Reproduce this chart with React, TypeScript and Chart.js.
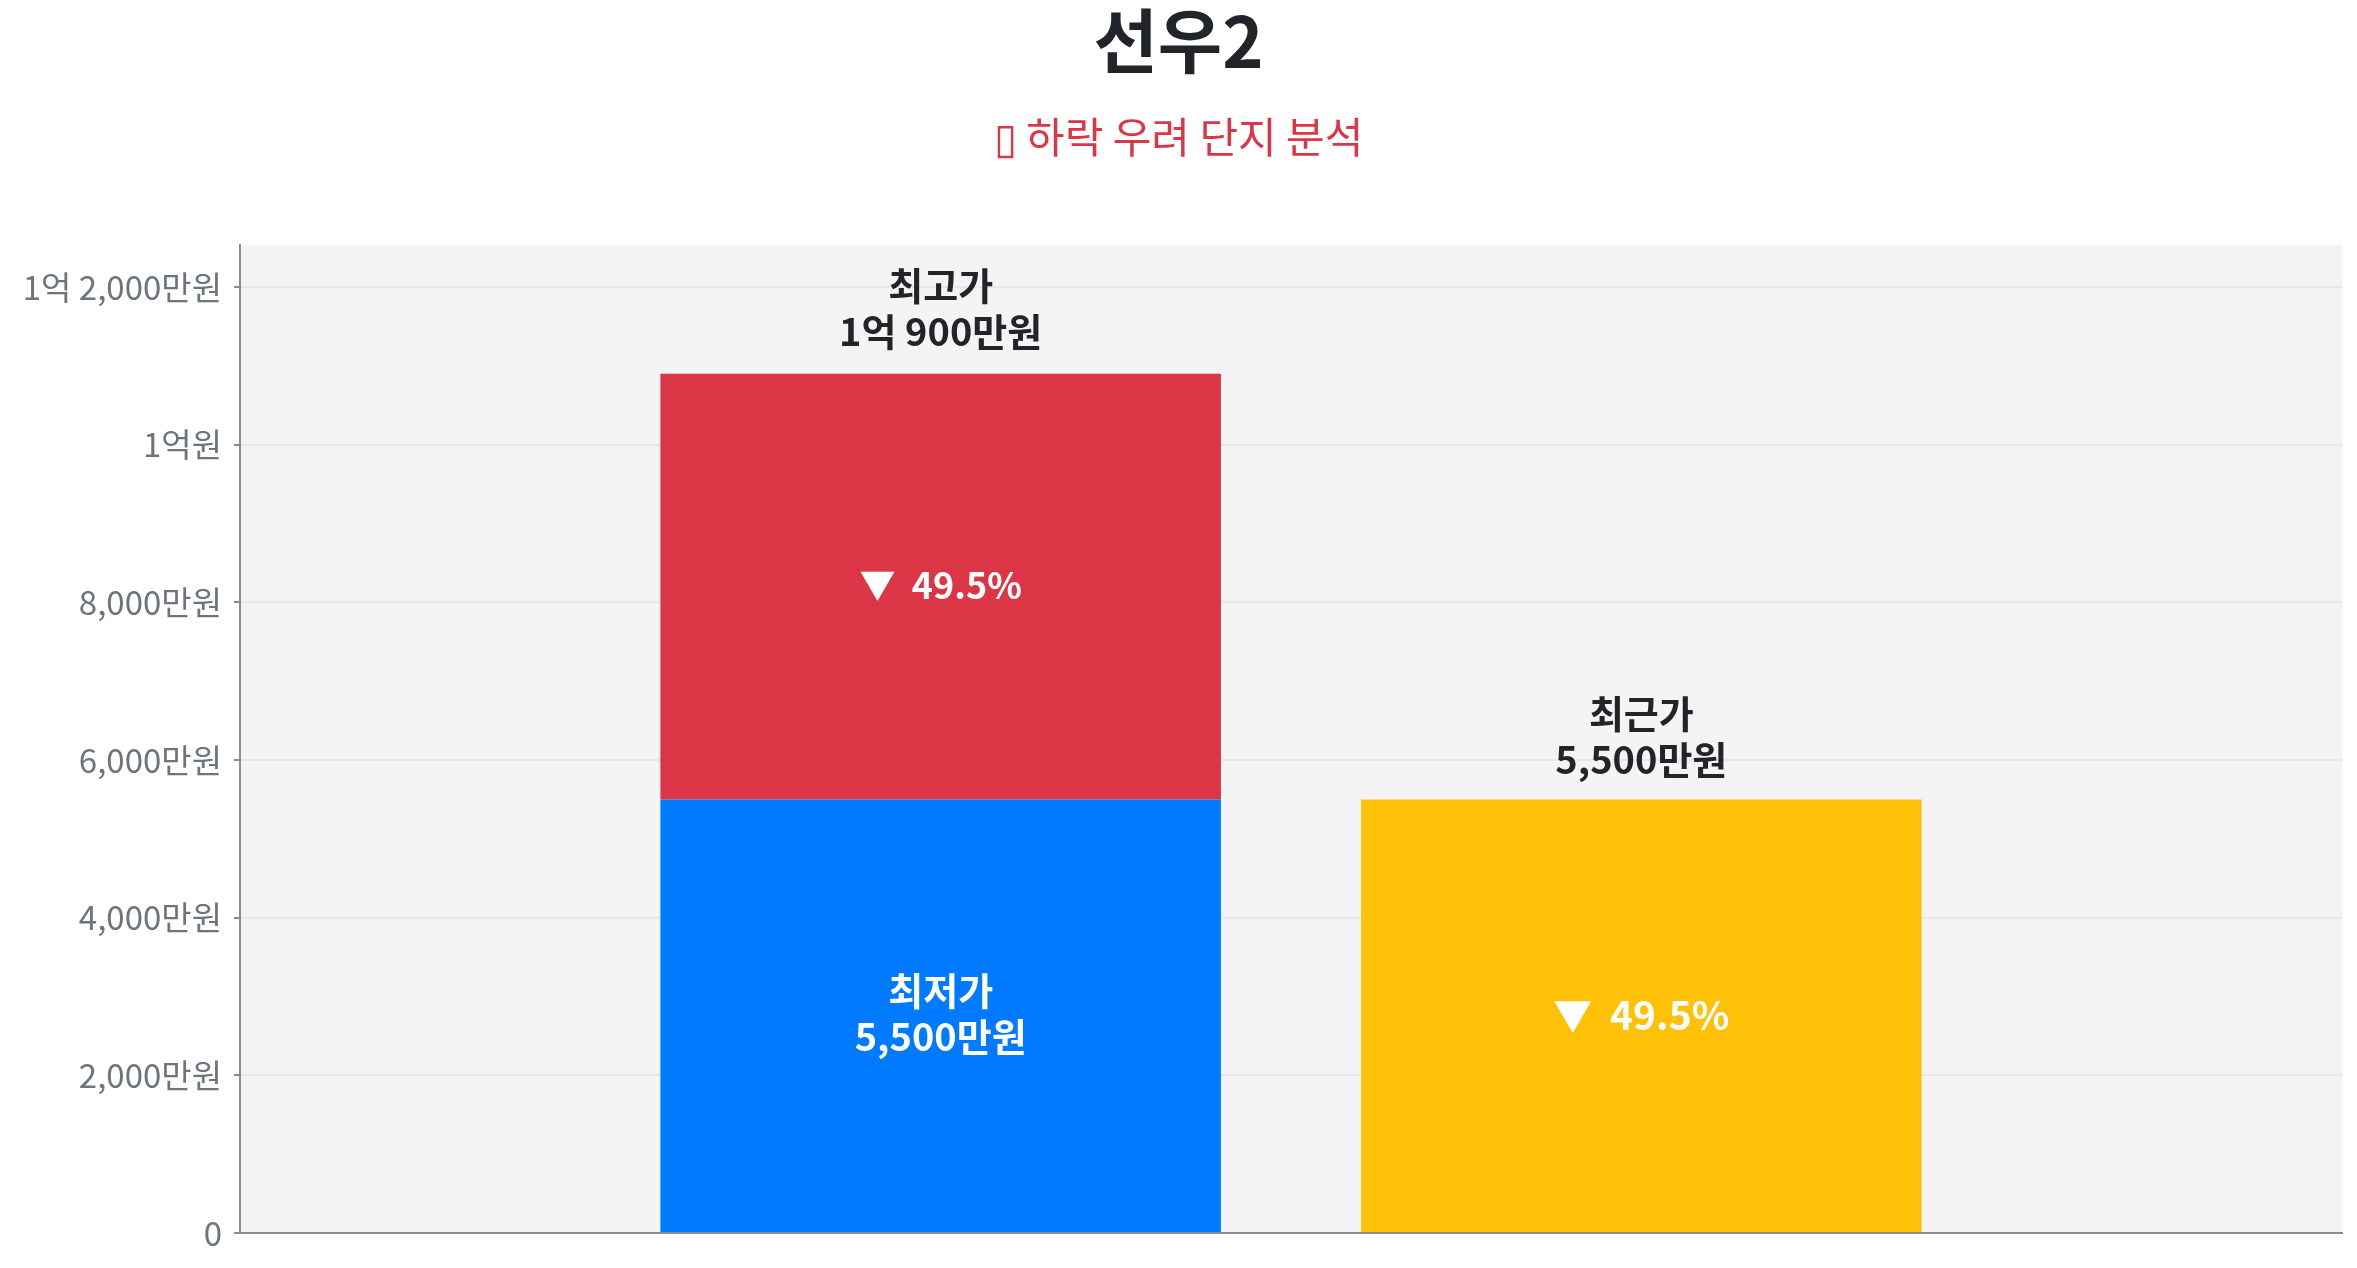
import React, { useEffect, useRef } from 'react';
import { Chart, registerables } from 'chart.js';

Chart.register(...registerables);

// ---- data (values in 만원) ----
const categories = ['', '최저가·최고가', '최근가', ''];
const priceNames = ['최저가', '최고가', '최근가'];
const priceValues = [5500, 10900, 5500]; // lowest, highest, recent
const yTickStep = 2000;
const yMaxValue = 12535;
const titleText = '선우2';
const subtitleText = '▯ 하락 우려 단지 분석';

const FONT = '"Noto Sans CJK KR", "Noto Sans", sans-serif';

function formatManwon(v: number): string {
  if (v === 0) return '0';
  const eok = Math.floor(v / 10000);
  const man = Math.round(v % 10000);
  if (eok > 0 && man > 0) return `${eok}억 ${man.toLocaleString('en-US')}만원`;
  if (eok > 0) return `${eok}억원`;
  return `${man.toLocaleString('en-US')}만원`;
}

const bgPlugin = {
  id: 'areaBg',
  beforeDraw(chart: any) {
    const { ctx, chartArea } = chart;
    if (!chartArea) return;
    ctx.save();
    ctx.fillStyle = '#f4f4f4';
    ctx.fillRect(chartArea.left, chartArea.top, chartArea.right - chartArea.left, chartArea.bottom - chartArea.top);
    ctx.restore();
  },
};

const labelPlugin = {
  id: 'barLabels',
  afterDatasetsDraw(chart: any) {
    const { ctx } = chart;
    const [low, high, recent] = priceValues;
    const dropHigh = (((high - low) / high) * 100).toFixed(1);
    const dropRecent = (((high - recent) / high) * 100).toFixed(1);
    const el = (ds: number, idx: number) => chart.getDatasetMeta(ds).data[idx].getProps(['x', 'y', 'base'], true);

    ctx.save();
    ctx.textAlign = 'center';
    ctx.textBaseline = 'middle';

    // lowest (blue)
    const b = el(0, 1);
    const bc = (b.y + b.base) / 2;
    ctx.fillStyle = '#ffffff';
    ctx.font = `bold 38px ${FONT}`;
    ctx.fillText(priceNames[0], b.x, bc - 25);
    ctx.fillText(formatManwon(low), b.x, bc + 21);

    // highest (red)
    const r = el(1, 1);
    const rc = (r.y + r.base) / 2;
    ctx.font = `bold 36px ${FONT}`;
    ctx.fillText(`▼  ${dropHigh}%`, r.x, rc - 1);
    ctx.fillStyle = '#212529';
    ctx.font = `bold 38px ${FONT}`;
    ctx.fillText(priceNames[1], r.x, r.y - 88);
    ctx.fillText(formatManwon(high), r.x, r.y - 42);

    // recent (yellow)
    const y = el(2, 2);
    const yc = (y.y + y.base) / 2;
    ctx.fillStyle = '#ffffff';
    ctx.font = `bold 39px ${FONT}`;
    ctx.fillText(`▼  ${dropRecent}%`, y.x, yc - 1);
    ctx.fillStyle = '#212529';
    ctx.font = `bold 38px ${FONT}`;
    ctx.fillText(priceNames[2], y.x, y.y - 86);
    ctx.fillText(formatManwon(recent), y.x, y.y - 40);

    ctx.restore();
  },
};

export default function App() {
  const canvasRef = useRef<HTMLCanvasElement | null>(null);

  useEffect(() => {
    document.body.style.margin = '0';
    const canvas = canvasRef.current;
    if (!canvas) return;
    const [low, high, recent] = priceValues;
    const chart = new Chart(canvas, {
      type: 'bar',
      data: {
        labels: categories,
        datasets: [
          {
            label: priceNames[0],
            data: [null, low, null, null],
            backgroundColor: '#007bff',
            categoryPercentage: 0.8,
            barPercentage: 1.0,
          },
          {
            label: priceNames[1],
            data: [null, high - low, null, null],
            backgroundColor: '#dc3545',
            categoryPercentage: 0.8,
            barPercentage: 1.0,
          },
          {
            label: priceNames[2],
            data: [null, null, recent, null],
            backgroundColor: '#ffc107',
            categoryPercentage: 0.8,
            barPercentage: 1.0,
          },
        ],
      },
      options: {
        responsive: false,
        animation: false,
        devicePixelRatio: 1,
        layout: { padding: { left: 15, right: 15, top: 0, bottom: 35 } },
        plugins: {
          legend: { display: false },
          tooltip: { enabled: false },
          title: {
            display: true,
            text: titleText,
            color: '#212529',
            font: { size: 70, weight: 'bold', family: FONT, lineHeight: 1 },
            padding: { top: 6, bottom: 0 },
          },
          subtitle: {
            display: true,
            text: subtitleText,
            color: '#dc3545',
            font: { size: 42, weight: 'normal', family: FONT, lineHeight: 1 },
            padding: { top: 40, bottom: 87 },
          },
        },
        scales: {
          x: {
            stacked: true,
            offset: false,
            ticks: { display: false },
            grid: { display: false, drawTicks: false },
            border: { display: true, color: '#868e96', width: 2 },
          },
          y: {
            stacked: true,
            min: 0,
            max: yMaxValue,
            ticks: {
              color: '#6c757d',
              padding: 12,
              font: { size: 33, family: FONT },
              callback: (v: any) => formatManwon(Number(v)),
            },
            afterBuildTicks: (scale: any) => {
              const ticks: { value: number }[] = [];
              for (let v = 0; v <= scale.max; v += yTickStep) ticks.push({ value: v });
              scale.ticks = ticks;
            },
            grid: {
              color: '#e8e8e8',
              lineWidth: 2,
              drawTicks: true,
              tickLength: 6,
              tickColor: '#868e96',
            },
            border: { display: true, color: '#868e96', width: 2 },
            afterFit: (scale: any) => {
              scale.width = 225;
            },
          },
        },
      },
      plugins: [bgPlugin, labelPlugin],
    } as any);
    return () => chart.destroy();
  }, []);

  return (
    <div style={{ position: 'fixed', left: 0, top: 0, width: 2357, height: 1268, background: '#ffffff' }}>
      <canvas ref={canvasRef} width={2357} height={1268} />
    </div>
  );
}
